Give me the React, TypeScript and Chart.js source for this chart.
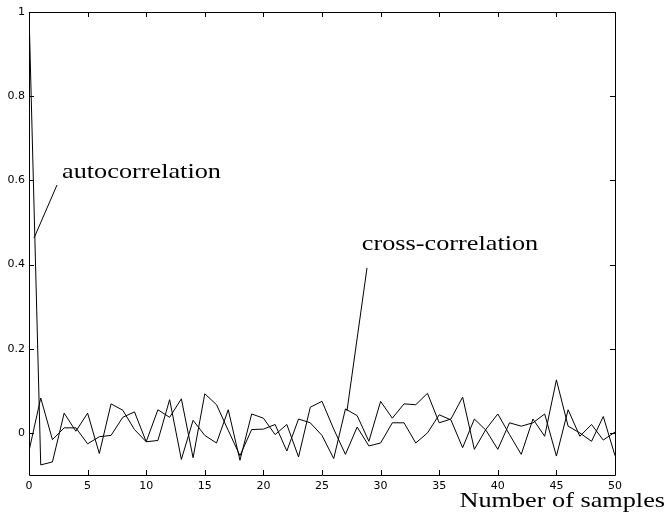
import React, { useEffect, useRef } from "react";
import { Chart, registerables } from "chart.js";

Chart.register(...registerables);

const samples = [
  0, 1, 2, 3, 4, 5, 6, 7, 8, 9, 10, 11, 12, 13, 14, 15, 16, 17, 18, 19, 20,
  21, 22, 23, 24, 25, 26, 27, 28, 29, 30, 31, 32, 33, 34, 35, 36, 37, 38, 39,
  40, 41, 42, 43, 44, 45, 46, 47, 48, 49, 50,
];

const autocorrelation = [
  1.0, -0.076, -0.069, 0.047, 0.004, 0.047, -0.049, 0.069, 0.054, 0.008, -0.021,
  0.055, 0.037, 0.081, -0.059, 0.093, 0.067, 0.006, -0.054,
  0.008, 0.009, 0.02, -0.043, 0.033, 0.024, -0.006, -0.061, 0.057, 0.041, -0.02,
  0.075, 0.035, 0.069, 0.067,
  0.094, 0.024, 0.033, 0.085, -0.039, 0.009, 0.045, -0.004, -0.051, 0.033,
  -0.008, 0.126, 0.016, 0.0, -0.02, 0.039, -0.054,
];

const crossCorrelation = [
  -0.043, 0.083, -0.016, 0.012, 0.012, -0.026, -0.009, -0.006, 0.037, 0.05, -0.021,
  -0.018, 0.079, -0.063, 0.03, -0.006, -0.024, 0.055, -0.065,
  0.045, 0.035, -0.004, 0.02, -0.057, 0.061, 0.075, 0.009, -0.051, 0.014, -0.031,
  -0.024, 0.024, 0.024, -0.024,
  0.0, 0.043, 0.031, -0.035, 0.033, 0.006, -0.039, 0.024, 0.016, 0.024, 0.045,
  -0.055, 0.055, -0.008, 0.02, -0.017, 0.002,
];

const xTicks = [0, 5, 10, 15, 20, 25, 30, 35, 40, 45, 50];
const yTicks = [0, 0.2, 0.4, 0.6, 0.8, 1];

const xTitle = "Number of samples";
const autoLabel = "autocorrelation";
const crossLabel = "cross-correlation";

const framePlugin = {
  id: "matlabFrame",
  afterDraw(chart: any) {
    const { ctx, chartArea, scales } = chart;
    const { left, right, top, bottom } = chartArea;
    const xs = scales.x;
    const ys = scales.y;
    ctx.save();
    ctx.strokeStyle = "#000";
    ctx.lineWidth = 1;
    ctx.beginPath();
    ctx.rect(Math.round(left) + 0.5, Math.round(top) + 0.5, Math.round(right - left), Math.round(bottom - top));
    ctx.stroke();
    const tl = 5;
    ctx.beginPath();
    for (const v of xTicks) {
      const px = Math.round(xs.getPixelForValue(v)) + 0.5;
      ctx.moveTo(px, bottom);
      ctx.lineTo(px, bottom - tl);
      ctx.moveTo(px, top);
      ctx.lineTo(px, top + tl);
    }
    for (const v of yTicks) {
      const py = Math.round(ys.getPixelForValue(v)) + 0.5;
      ctx.moveTo(left, py);
      ctx.lineTo(left + tl, py);
      ctx.moveTo(right, py);
      ctx.lineTo(right - tl, py);
    }
    ctx.stroke();

    // annotation pointer lines
    ctx.beginPath();
    ctx.moveTo(xs.getPixelForValue(2.39), ys.getPixelForValue(0.589));
    ctx.lineTo(xs.getPixelForValue(0.43), ys.getPixelForValue(0.463));
    ctx.moveTo(xs.getPixelForValue(28.84), ys.getPixelForValue(0.392));
    ctx.lineTo(xs.getPixelForValue(27.13), ys.getPixelForValue(0.052));
    ctx.stroke();

    const drawStretched = (text: string, x: number, y: number, align: string) => {
      ctx.save();
      ctx.font = '21px "Liberation Serif", "Times New Roman", serif';
      ctx.fillStyle = "#000";
      ctx.textBaseline = "alphabetic";
      ctx.textAlign = align;
      ctx.translate(x, y);
      ctx.scale(1.25, 1);
      ctx.fillText(text, 0, 0);
      ctx.restore();
    };
    drawStretched(autoLabel, xs.getPixelForValue(2.82), ys.getPixelForValue(0.605), "left");
    drawStretched(crossLabel, xs.getPixelForValue(28.4), ys.getPixelForValue(0.435), "left");
    drawStretched(xTitle, chart.width - 1, 507, "right");
    ctx.restore();
  },
};

export default function App() {
  const canvasRef = useRef<HTMLCanvasElement | null>(null);

  useEffect(() => {
    const canvas = canvasRef.current;
    if (!canvas) return;
    const tickFont = { family: '"DejaVu Sans", Arial, sans-serif', size: 11 };
    const chart = new Chart(canvas, {
      type: "line",
      data: {
        datasets: [
          {
            label: autoLabel,
            data: samples.map((x, i) => ({ x, y: autocorrelation[i] })),
            borderColor: "#000",
            borderWidth: 1,
            pointRadius: 0,
            tension: 0,
            fill: false,
          },
          {
            label: crossLabel,
            data: samples.map((x, i) => ({ x, y: crossCorrelation[i] })),
            borderColor: "#000",
            borderWidth: 1,
            pointRadius: 0,
            tension: 0,
            fill: false,
          },
        ],
      },
      options: {
        animation: false,
        responsive: false,
        devicePixelRatio: 1,
        layout: { padding: { top: 12, right: 51, left: 0, bottom: 0 } },
        plugins: {
          legend: { display: false },
          tooltip: { enabled: false },
          title: { display: false },
        },
        scales: {
          x: {
            type: "linear",
            min: 0,
            max: 50,
            grid: { display: false, drawTicks: false },
            border: { display: false },
            afterBuildTicks: (s: any) => {
              s.ticks = xTicks.map((v) => ({ value: v }));
            },
            afterFit: (s: any) => {
              s.height = 47;
            },
            ticks: {
              font: tickFont,
              color: "#000",
              padding: 5,
              maxRotation: 0,
              autoSkip: false,
              callback: (v: any) => String(v),
            },
          },
          y: {
            type: "linear",
            min: -0.1,
            max: 1,
            grid: { display: false, drawTicks: false },
            border: { display: false },
            afterBuildTicks: (s: any) => {
              s.ticks = yTicks.map((v) => ({ value: v }));
            },
            afterFit: (s: any) => {
              s.width = 29;
            },
            ticks: {
              font: tickFont,
              color: "#000",
              padding: 4,
              autoSkip: false,
              callback: (v: any) => String(Math.round(v * 10) / 10),
            },
          },
        },
      },
      plugins: [framePlugin],
    } as any);
    return () => chart.destroy();
  }, []);

  return (
    <div style={{ position: "absolute", left: 0, top: 0, width: 666, height: 522, background: "#fff" }}>
      <canvas ref={canvasRef} width={666} height={522} />
    </div>
  );
}
